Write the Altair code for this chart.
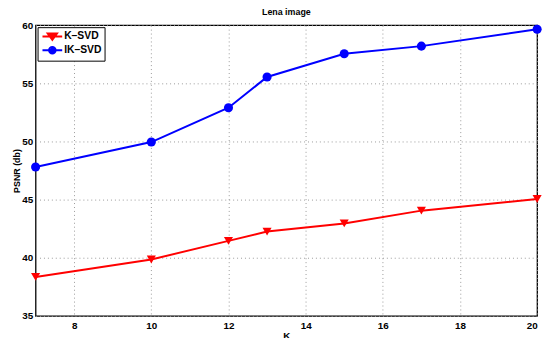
import altair as alt
import pandas as pd

kmax = [7, 10, 12, 13, 15, 17, 20]
ksvd = [38.35, 39.85, 41.45, 42.25, 42.95, 44.05, 45.05]
iksvd = [47.8, 49.95, 52.9, 55.55, 57.55, 58.2, 59.65]
series = ["K–SVD", "IK–SVD"]
colors = ["#ff0000", "#0000ff"]

rows = []
for k, a, b in zip(kmax, ksvd, iksvd):
    rows.append({"k": k, "psnr": a, "method": series[0]})
    rows.append({"k": k, "psnr": b, "method": series[1]})
df = pd.DataFrame(rows)

FONT = "Liberation Sans"

x = alt.X("k:Q", scale=alt.Scale(domain=[7, 20], nice=False, zero=False),
          axis=alt.Axis(values=[8, 10, 12, 14, 16, 18, 20], title="K",
                        titleFontSize=10, titleFontWeight="bold", titlePadding=0,
                        labelFontSize=10, labelFontWeight="bold", labelPadding=5))
y = alt.Y("psnr:Q", scale=alt.Scale(domain=[35, 60], nice=False, zero=False),
          axis=alt.Axis(values=[35, 40, 45, 50, 55, 60], title="PSNR (db)",
                        titleFontSize=9, titleFontWeight="bold", titlePadding=0,
                        labelFontSize=10, labelFontWeight="bold", labelPadding=3))
color = alt.Color("method:N", scale=alt.Scale(domain=series, range=colors), legend=None)

lines = alt.Chart(df).mark_line(strokeWidth=2).encode(x=x, y=y, color=color, detail="method:N")
points = alt.Chart(df).mark_point(filled=True, opacity=1, size=85).encode(
    x=x, y=y, color=color,
    shape=alt.Shape("method:N", scale=alt.Scale(domain=series, range=["triangle-down", "circle"]), legend=None),
)

# line + marker legend glyphs (stroked only, inner strokes fill the marker), shifted right
leg_paths = [
    "M-0.82,0H2.82M0.15,-0.55H1.85L1,0.6ZM0.55,-0.3H1.45L1,0.25ZM0.88,-0.15H1.12",
    "M-0.82,0H2.82M1.6,0A0.6,0.6 0 1,1 0.4,0A0.6,0.6 0 1,1 1.6,0Z"
    "M1.25,0A0.25,0.25 0 1,1 0.75,0A0.25,0.25 0 1,1 1.25,0Z",
]
leg_props = dict(title=None, orient="none", legendX=2, legendY=2,
                 symbolStrokeWidth=2, symbolSize=121,
                 labelFontSize=10.5, labelFontWeight="bold", labelFont=FONT,
                 labelColor="black", strokeColor="black", fillColor="white",
                 padding=3, rowPadding=-3, labelOffset=11, symbolOffset=0)
legend_layer = alt.Chart(df).mark_point(filled=False, opacity=1, size=121, strokeWidth=2).encode(
    x=x, y=y,
    color=alt.Color("method:N", scale=alt.Scale(domain=series, range=colors),
                    legend=alt.Legend(**leg_props)),
    shape=alt.Shape("method:N", scale=alt.Scale(domain=series, range=leg_paths),
                    legend=alt.Legend(**leg_props)),
).transform_filter("false")

sub = alt.Chart(pd.DataFrame({"t": ["max"]})).mark_text(
    fontSize=8, fontWeight="bold", font=FONT, align="left", baseline="top").encode(
    text="t:N", x=alt.value(251), y=alt.value(319))

chart = alt.layer(lines, points, legend_layer, sub).resolve_scale(
    shape="independent", color="independent").properties(
    width=509, height=295,
    title=alt.TitleParams("Lena image", fontSize=9, fontWeight="bold", font=FONT, offset=3),
    padding={"left": 28, "top": 15, "right": 8, "bottom": 20},
    autosize="none",
    background="white",
).configure_view(stroke="black", strokeWidth=1.3).configure_axis(
    grid=True, gridColor="#999999", gridDash=[1, 3], gridWidth=1, ticks=False, domain=False,
    labelFont=FONT, titleFont=FONT, labelColor="black", titleColor="black",
)

chart.save("out.html", embed_options={"renderer": "svg", "actions": False})
